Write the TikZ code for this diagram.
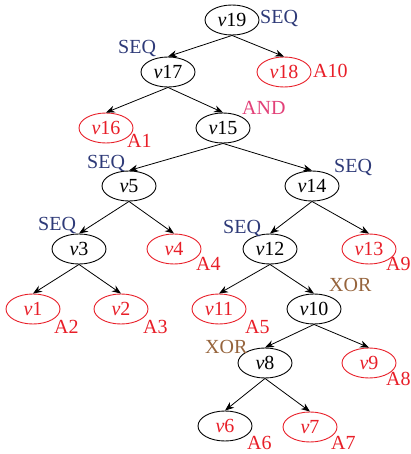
\documentclass[tikz,border=0pt]{standalone}
\usepackage{fontspec}
\setmainfont{Liberation Serif}
\usetikzlibrary{shapes.geometric,arrows.meta}
\definecolor{seqc}{RGB}{46,58,120}
\definecolor{andc}{RGB}{226,64,120}
\definecolor{xorc}{RGB}{150,100,60}
\definecolor{redc}{RGB}{232,30,40}
\tikzset{
  every node/.style={font=\fontsize{20}{22}\selectfont},
  vnode/.style={ellipse,draw,line width=0.9pt,minimum width=54pt,minimum height=30pt,inner sep=0pt},
  act/.style={vnode,draw=redc,text=redc},
  lab/.style={inner sep=0pt,anchor=west},
  seq/.style={lab,text=seqc},
  andl/.style={lab,text=andc},
  xorl/.style={lab,text=xorc},
  alab/.style={lab,text=redc},
  edge/.style={-{Stealth[length=9pt,width=7pt]},line width=0.8pt}
}
\begin{document}
\begin{tikzpicture}[x=1pt,y=-1pt]
\useasboundingbox (0,0) rectangle (411,454);
\node[vnode] (v19) at (232,20) {\textit{v}19};
\node[vnode] (v17) at (168,72) {\textit{v}17};
\node[act] (v18) at (284,72) {\textit{v}18};
\node[act] (v16) at (106,128) {\textit{v}16};
\node[vnode] (v15) at (223,128) {\textit{v}15};
\node[vnode] (v5) at (129,186) {\textit{v}5};
\node[vnode] (v14) at (312,186) {\textit{v}14};
\node[vnode] (v3) at (79,249) {\textit{v}3};
\node[act] (v4) at (174,249) {\textit{v}4};
\node[vnode] (v12) at (270,249) {\textit{v}12};
\node[act] (v13) at (369,249) {\textit{v}13};
\node[act] (v1) at (33,309) {\textit{v}1};
\node[act] (v2) at (121,309) {\textit{v}2};
\node[act] (v11) at (219,309) {\textit{v}11};
\node[vnode] (v10) at (314,309) {\textit{v}10};
\node[vnode] (v8) at (265,363) {\textit{v}8};
\node[act] (v9) at (369,363) {\textit{v}9};
\node[vnode,text=redc] (v6) at (225,426) {\textit{v}6};
\node[act] (v7) at (310,427) {\textit{v}7};
% labels
\node[seq] (l19) at (260,19) {SEQ};
\node[seq] (l17) at (118,49) {SEQ};
\node[alab] (a10) at (313,71) {A10};
\node[andl] (l15) at (242,108) {AND};
\node[alab] (a1) at (127,141) {A1};
\node[seq] (l5) at (87,163) {SEQ};
\node[seq] (l14) at (334,167) {SEQ};
\node[seq] (l3) at (38,225) {SEQ};
\node[alab] (a4) at (196,264) {A4};
\node[seq] (l12) at (223,228) {SEQ};
\node[alab] (a9) at (386,264) {A9};
\node[xorl] (l10) at (329,285) {XOR};
\node[alab] (a2) at (54,327) {A2};
\node[alab] (a3) at (143,327) {A3};
\node[alab] (a5) at (245,327) {A5};
\node[xorl] (l8) at (205,347) {XOR};
\node[alab] (a8) at (386,379) {A8};
\node[alab] (a6) at (247,443) {A6};
\node[alab] (a7) at (331,443) {A7};
% edges
\foreach \p/\c in {v19/v17,v19/v18,v17/v16,v17/v15,v15/v5,v15/v14,v5/v3,v5/v4,v14/v12,v14/v13,v3/v1,v3/v2,v12/v11,v12/v10,v10/v8,v10/v9,v8/v6,v8/v7}
  \draw[edge] (\p.south) -- (\c.north);
\end{tikzpicture}
\end{document}
